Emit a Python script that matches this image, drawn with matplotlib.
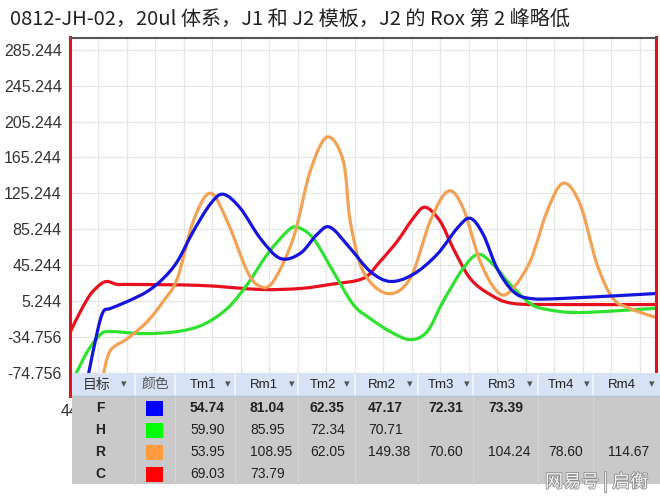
import matplotlib.pyplot as plt
import numpy as np
from matplotlib.path import Path
from matplotlib.patches import PathPatch, Rectangle
import matplotlib.patheffects as pe

plt.rcParams['font.family'] = ['Liberation Sans', 'Noto Sans CJK SC']

# Curvas de fusion (temperatura, fluorescencia)
red_t = [44.03, 44.73, 45.43, 46.13, 46.62, 47.33, 48.24, 53.15, 57.36, 60.17, 62.27,
         64.59, 65.78, 66.98, 68.10, 68.94, 69.99, 70.91, 72.10, 73.50, 75.12, 78.63, 85.2]
red_v = [-28.7, -6.4, 12.6, 23.8, 27.1, 23.8, 23.8, 22.7, 18.2, 19.3, 23.8,
         30.5, 49.5, 71.9, 97.5, 109.8, 94.2, 64.0, 30.5, 12.6, 2.6, 1.4, 1.4]

blue_t = [45.29, 45.92, 46.34, 46.83, 48.03, 49.43, 50.55, 51.54, 52.66, 53.85, 54.76,
          55.96, 57.36, 58.76, 60.17, 61.36, 62.27, 63.68, 65.08, 66.48, 68.10, 69.78,
          71.19, 72.10, 73.01, 73.99, 75.12, 76.31, 78.63, 85.2]
blue_v = [-76.8, -28.7, -6.4, -3.0, 4.8, 16.0, 30.5, 49.5, 83.0, 113.2, 124.3,
          108.7, 75.2, 52.8, 58.4, 79.7, 87.5, 64.0, 38.3, 27.1, 35.0, 57.3,
          86.4, 97.5, 79.7, 41.7, 16.0, 8.2, 8.2, 13.7]

orange_t = [46.34, 46.83, 48.03, 49.43, 50.55, 51.54, 52.66, 53.85, 55.04, 56.45, 57.36,
            58.27, 59.68, 60.87, 62.06, 63.19, 63.68, 64.59, 66.27, 67.89, 69.29, 70.55,
            71.61, 72.80, 73.99, 74.91, 76.31, 77.50, 78.63, 79.82, 81.01, 82.13, 83.33,
            84.94, 85.2]
orange_v = [-76.8, -49.9, -36.5, -17.5, 5.0, 30.5, 94.2, 125.5, 94.2, 38.3, 21.6,
            27.1, 75.2, 150.0, 188.0, 161.2, 94.2, 38.3, 13.7, 30.5, 94.2, 127.7,
            108.7, 49.5, 16.0, 16.0, 49.5, 105.3, 136.6, 113.2, 46.1, 8.2, -3.0,
            -12.0, -12.5]

green_t = [44.38, 45.22, 46.13, 46.83, 49.15, 51.54, 53.36, 55.04, 56.45, 57.85, 59.26,
           59.96, 61.08, 62.48, 63.89, 65.08, 66.48, 67.89, 69.08, 70.20, 71.61, 72.66,
           73.71, 74.91, 76.31, 77.50, 79.82, 84.94, 85.2]
green_v = [-76.8, -51.1, -32.1, -28.7, -31.0, -28.7, -20.9, -3.0, 23.8, 57.3, 83.0,
           87.5, 75.2, 38.3, 1.4, -14.2, -28.7, -37.7, -28.7, 4.8, 41.7, 57.3,
           46.1, 23.8, 2.6, -4.1, -7.5, -3.0, -3.0]

# Tabla de resultados
targets = ['F', 'H', 'R', 'C']
swatch_colors = ['#0000ff', '#00ff00', '#ff9c40', '#ff0000']
table_cols = ['Tm1', 'Rm1', 'Tm2', 'Rm2', 'Tm3', 'Rm3', 'Tm4', 'Rm4']
table_vals = [
    ['54.74', '81.04', '62.35', '47.17', '72.31', '73.39', '', ''],
    ['59.90', '85.95', '72.34', '70.71', '', '', '', ''],
    ['53.95', '108.95', '62.05', '149.38', '70.60', '104.24', '78.60', '114.67'],
    ['69.03', '73.79', '', '', '', '', '', ''],
]

yticks = [285.244 - 40 * k for k in range(10)]
xticks = list(range(44, 86, 2))

title = '0812-JH-02，20ul 体系，J1 和 J2 模板，J2 的 Rox 第 2 峰略低'


def curva(t, v):
    # trazo suave (Catmull-Rom) por los puntos leidos
    p = np.column_stack([t, v])
    verts = [p[0]]
    codes = [Path.MOVETO]
    n = len(p)
    for i in range(n - 1):
        p0 = p[i - 1] if i > 0 else p[i]
        p1 = p[i]
        p2 = p[i + 1]
        p3 = p[i + 2] if i + 2 < n else p[i + 1]
        verts += [p1 + (p2 - p0) / 6, p2 - (p3 - p1) / 6, p2]
        codes += [Path.CURVE4] * 3
    return Path(verts, codes)


fig = plt.figure(figsize=(6.6, 4.96), dpi=100)
fig.text(10 / 660, 1 - 19 / 496, title, fontsize=14.5, va='center', ha='left',
         family=['Noto Sans CJK SC', 'DejaVu Sans'], color='#222222')

ax = fig.add_axes([70 / 660, 1 - 396 / 496, 586 / 660, (396 - 37.5) / 496])
ax.set_xlim(44, 85.15)
ax.set_ylim(-100.5, 298.9)
ax.set_yticks(yticks)
ax.set_yticklabels(['%.3f' % y for y in yticks])
ax.set_xticks(xticks)
# solo la primera etiqueta asoma por debajo de la tabla
ax.set_xticklabels([str(xticks[0])] + [''] * (len(xticks) - 1))
ax.tick_params(length=0, labelsize=11.5, labelcolor='#333333', pad=6)
ax.grid(True, color='#e6e6e6', linewidth=0.9)
ax.set_axisbelow(True)
for s in ['left', 'right']:
    ax.spines[s].set_color('#e3121c')
    ax.spines[s].set_linewidth(2.2)
ax.spines['top'].set_color('#555555')
ax.spines['top'].set_linewidth(1.5)
ax.spines['bottom'].set_visible(False)

for t, v, c in [(red_t, red_v, '#e8101e'), (green_t, green_v, '#2fe22f'),
                (orange_t, orange_v, '#f2a255'), (blue_t, blue_v, '#1414dc')]:
    ax.add_patch(PathPatch(curva(t, v), facecolor='none', edgecolor=c,
                           linewidth=2.3, capstyle='round', joinstyle='round'))

# tabla dibujada encima, en pixeles
tax = fig.add_axes([0, 0, 1, 1], zorder=5)
tax.set_xlim(0, 660)
tax.set_ylim(496, 0)
tax.axis('off')
tax.patch.set_alpha(0)

edges = [72, 135, 175, 235, 298, 355, 418, 473, 538, 593, 662]
starts = [190, 250, 310, 368, 428, 488, 548, 608]
arrows = [228, 292, 347, 410, 467, 530, 587, 652]
top, hb, rh = 373, 396, 22

tax.add_patch(Rectangle((72, top), 590, hb - top, facecolor='#d7e3f4', edgecolor='none'))
tax.add_patch(Rectangle((72, hb), 590, rh * 4, facecolor='#c9c9c9', edgecolor='none'))
tax.plot([72, 662], [hb, hb], color='#b5c3d8', lw=1)
for e in edges[1:-1]:
    tax.plot([e, e], [top + 2, hb - 2], color='#f4f8fd', lw=1.2)
    tax.plot([e, e], [hb, hb + rh * 4], color='#d3d3d3', lw=0.8)

hy = (top + hb) / 2
tax.text(83, hy, '目标', fontsize=10, va='center', ha='left', color='#333333')
tax.text(124, hy, '▾', fontsize=8, va='center', ha='center', color='#555555',
         family='DejaVu Sans')
tax.text(155, hy, '颜色', fontsize=10, va='center', ha='center', color='#555555')
for name, x0, xa in zip(table_cols, starts, arrows):
    tax.text(x0, hy, name, fontsize=9.5, va='center', ha='left', color='#222222')
    tax.text(xa, hy, '▾', fontsize=8, va='center', ha='center', color='#555555',
             family='DejaVu Sans')

for i, (tg, sc, row) in enumerate(zip(targets, swatch_colors, table_vals)):
    yc = hb + rh * i + rh / 2 + 1
    w = 'bold' if i == 0 else 'normal'
    tax.text(100, yc, tg, fontsize=10, va='center', ha='center', color='#222222',
             weight='bold')
    tax.add_patch(Rectangle((146, yc - 7.5), 17, 15, facecolor=sc, edgecolor='none'))
    for val, x0 in zip(row, starts):
        tax.text(x0, yc, val, fontsize=10, va='center', ha='left', color='#222222',
                 weight=w)

tax.text(545, 482, '网易号 | 启衡', fontsize=13, va='center', ha='left', style='italic',
         family=['Noto Sans CJK SC'], color='#f4f4f4',
         path_effects=[pe.withStroke(linewidth=1.2, foreground='#8c8c8c')])

fig.savefig('out.png', dpi=100)
